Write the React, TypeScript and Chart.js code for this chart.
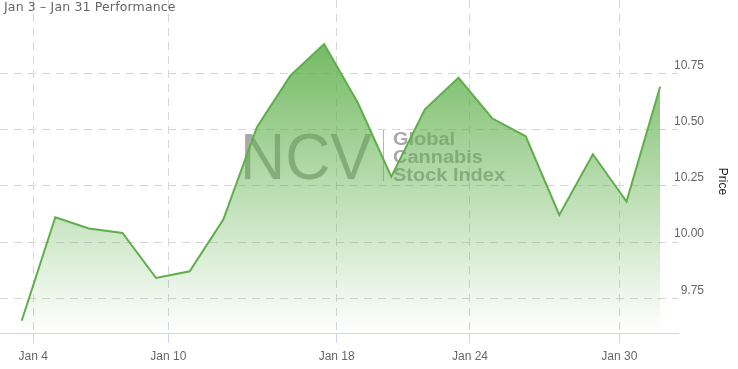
import React, { useEffect, useRef } from 'react';
import { Chart, registerables } from 'chart.js';

Chart.register(...registerables);

// Trading days shown (Jan 3 – Jan 31)
const tradingDays = [
  'Jan 3', 'Jan 4', 'Jan 5', 'Jan 6', 'Jan 7',
  'Jan 10', 'Jan 11', 'Jan 12', 'Jan 13', 'Jan 14',
  'Jan 18', 'Jan 19', 'Jan 20', 'Jan 21',
  'Jan 24', 'Jan 25', 'Jan 26', 'Jan 27', 'Jan 28', 'Jan 31',
];

// Index price per trading day
const prices = [
  9.65, 10.11, 10.06, 10.04, 9.84,
  9.87, 10.1, 10.51, 10.74, 10.88,
  10.62, 10.29, 10.59, 10.73,
  10.55, 10.47, 10.12, 10.39, 10.18, 10.69,
];

// x-axis tick labels and their positions on the ordinal (trading-day) axis
const xTickLabels = ['Jan 4', 'Jan 10', 'Jan 18', 'Jan 24', 'Jan 30'];
const xTickPositions = [0.345, 4.363, 9.375, 13.342, 17.786];

// y-axis ticks
const yTickValues = [9.75, 10.0, 10.25, 10.5, 10.75];

const chartTitle = 'Jan 3 \u2013 Jan 31 Performance';
const yAxisTitle = 'Price';

const FONT = "'Liberation Sans', Arial, sans-serif";

const overlayPlugin = {
  id: 'overlayTexts',
  beforeDatasetsDraw(chart: any) {
    const ctx = chart.ctx as CanvasRenderingContext2D;
    ctx.save();
    ctx.fillStyle = '#a9a9a9';
    // "NCV" watermark
    ctx.font = `64px ${FONT}`;
    ctx.textBaseline = 'alphabetic';
    ctx.textAlign = 'left';
    const w = ctx.measureText('NCV').width;
    ctx.save();
    ctx.translate(240, 178.5);
    ctx.scale(132 / w, 1);
    ctx.fillText('NCV', 0, 0);
    ctx.restore();
    // separator
    ctx.strokeStyle = '#b5b5b5';
    ctx.lineWidth = 1;
    ctx.beginPath();
    ctx.moveTo(383.5, 130);
    ctx.lineTo(383.5, 181);
    ctx.stroke();
    // right block
    ctx.font = `bold 18px ${FONT}`;
    const lines = ['Global', 'Cannabis', 'Stock Index'];
    const sw = ctx.measureText('Stock Index').width;
    const sx = 112 / sw;
    lines.forEach((t, i) => {
      ctx.save();
      ctx.translate(393, 145 + i * 17.8);
      ctx.scale(sx, 1);
      ctx.fillText(t, 0, 0);
      ctx.restore();
    });
    ctx.restore();
  },
  afterDraw(chart: any) {
    const ctx = chart.ctx as CanvasRenderingContext2D;
    ctx.save();
    ctx.translate(722, 181.5);
    ctx.rotate(Math.PI / 2);
    ctx.font = `12px ${FONT}`;
    ctx.fillStyle = '#222';
    ctx.textAlign = 'center';
    ctx.textBaseline = 'middle';
    ctx.fillText(yAxisTitle, 0, 0);
    ctx.restore();
  },
};

export default function App() {
  const canvasRef = useRef<HTMLCanvasElement | null>(null);

  useEffect(() => {
    if (!canvasRef.current) return;
    const chart = new Chart(canvasRef.current, {
      type: 'line',
      data: {
        labels: tradingDays,
        datasets: [
          {
            label: 'NCV Global Cannabis Stock Index',
            data: prices.map((p, i) => ({ x: i, y: p })),
            borderColor: '#5fae4b',
            borderWidth: 2,
            pointRadius: 0,
            tension: 0,
            fill: 'start',
            backgroundColor: (c: any) => {
              const area = c.chart.chartArea;
              if (!area) return 'rgba(95,176,75,0.4)';
              const g = c.chart.ctx.createLinearGradient(0, area.top, 0, area.bottom);
              g.addColorStop(0, 'rgba(95,176,75,1)');
              g.addColorStop(1, 'rgba(95,176,75,0)');
              return g;
            },
          },
        ],
      },
      options: {
        animation: false,
        responsive: true,
        maintainAspectRatio: false,
        layout: { padding: { left: 0, right: 34, top: 0, bottom: 0 } },
        plugins: {
          legend: { display: false },
          tooltip: { enabled: false },
          title: { display: false },
        },
        scales: {
          x: {
            type: 'linear',
            min: -0.646,
            max: 19.533,
            afterBuildTicks: (scale: any) => {
              scale.ticks = xTickPositions.map((v) => ({ value: v }));
            },
            afterFit: (scale: any) => {
              scale.height = 36;
              scale.paddingLeft = 0;
              scale.paddingRight = 0;
            },
            ticks: {
              autoSkip: false,
              maxRotation: 0,
              padding: 6,
              color: '#666',
              font: { family: FONT, size: 12 },
              callback: (_v: any, i: number) => xTickLabels[i],
            },
            grid: {
              color: '#d6d6d6',
              lineWidth: 1,
              drawTicks: true,
              tickLength: 10,
              tickColor: '#ccd6eb',
              tickBorderDash: [1, 0],
            },
            border: { display: true, color: '#ccd6eb', width: 1, dash: [8, 6] },
          },
          y: {
            type: 'linear',
            position: 'right',
            min: 9.5956,
            max: 11.0756,
            afterBuildTicks: (scale: any) => {
              scale.ticks = yTickValues.map((v) => ({ value: v }));
            },
            afterFit: (scale: any) => {
              scale.width = 26;
              scale.paddingTop = 0;
              scale.paddingBottom = 0;
            },
            ticks: {
              mirror: true,
              crossAlign: 'near',
              padding: 26,
              labelOffset: -8,
              color: '#666',
              font: { family: FONT, size: 12 },
              callback: (v: any) => Number(v).toFixed(2),
            },
            grid: {
              color: '#d6d6d6',
              lineWidth: 1,
              drawTicks: false,
              tickLength: 0,
            },
            border: { display: false, dash: [8, 6] },
            title: { display: false },
          },
        },
      } as any,
      plugins: [overlayPlugin],
    });
    return () => chart.destroy();
  }, []);

  return (
    <div style={{ position: 'absolute', left: 0, top: 0, width: 738, height: 369 }}>
      <canvas ref={canvasRef} />
      <div
        style={{
          position: 'absolute',
          left: 4,
          top: 0,
          font: "12.5px 'DejaVu Sans', sans-serif",
          letterSpacing: '0.15px',
          lineHeight: '14px',
          color: '#666',
          whiteSpace: 'nowrap',
        }}
      >
        {chartTitle}
      </div>
    </div>
  );
}
